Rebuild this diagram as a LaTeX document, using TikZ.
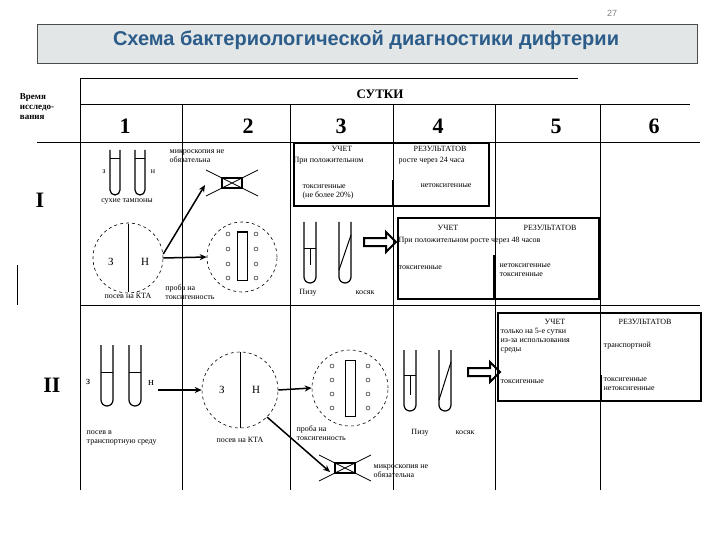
\documentclass[tikz,border=0pt]{standalone}
\usepackage{fontspec}
\setmainfont{Liberation Serif}
\newfontfamily\titlefont{Liberation Sans}
\usetikzlibrary{arrows.meta,shapes.arrows}
\definecolor{titleblue}{HTML}{2B5C8A}
\definecolor{bandgray}{HTML}{E2E6E6}
\tikzset{
  grid/.style={line width=0.8pt},
  txt/.style={font=\fontsize{8}{9}\selectfont, inner sep=0.5pt, align=left},
  big/.style={font=\bfseries\fontsize{22}{22}\selectfont, inner sep=0pt},
  resbox/.style={draw, line width=2pt},
  arr/.style={-{Stealth[length=7pt,width=6pt]}, line width=1.5pt},
  harrow/.style={single arrow, draw, line width=2pt, minimum height=32pt, minimum width=20pt, single arrow head extend=3pt, inner sep=1pt},
  dish/.style={circle, draw, dashed, line width=0.6pt, minimum size=70pt},
  testtube/.pic={\draw[line width=1.2pt] (-5,0) -- (-5,40) arc[start angle=180,end angle=0,radius=5] -- (5,0);},
  longtube/.pic={\draw[line width=1.2pt] (-6,0) -- (-6,55) arc[start angle=180,end angle=0,radius=6] -- (6,0);},
  scope/.pic={\draw[line width=2pt] (-10,-5) rectangle (10,5); \draw[line width=0.8pt] (-26,-13) -- (26,13) (-26,13) -- (26,-13);}
}
\begin{document}
\begin{tikzpicture}[x=1pt,y=-1pt]
\useasboundingbox (0,0) rectangle (720,540);
% title
\node (pg) at (612,13) {\titlefont\fontsize{9}{9}\selectfont\color{gray}27};
\draw[fill=bandgray, draw=black!70] (37,24) rectangle (697,63);
\node (title) at (366,40) {\titlefont\bfseries\fontsize{20}{20}\selectfont\color{titleblue}Схема бактериологической диагностики дифтерии};
% grid
\draw[grid] (80,78) -- (578,78);
\draw[grid] (80,78) -- (80,490);
\draw[grid] (80,104) -- (690,104);
\draw[grid] (37,142) -- (700,142);
\draw[grid] (80,305) -- (700,305);
\foreach \x in {182,290,393,495,600} \draw[grid] (\x,104) -- (\x,490);
\draw[grid] (17,265) -- (17,305);
% header
\node[txt, font=\bfseries\fontsize{9}{10}\selectfont] (vr) at (37,107) {Время\\исследо-\\вания};
\node[font=\bfseries\fontsize{13}{13}\selectfont] (sut) at (380,94) {СУТКИ};
\foreach \t/\x in {1/125,2/248,3/341,4/438,5/556,6/654} \node[big] (d\t) at (\x,126) {\t};
\node[big] (rI) at (40,200) {I};
\node[big] (rII) at (52,385) {II};
% row I
\pic at (115,150) {testtube}; \pic at (140,150) {testtube};
\draw (110,158) -- (120,158); \draw (135,158) -- (145,158);
\node[txt] (z1) at (104,172) {з}; \node[txt] (n1) at (153,172) {н};
\node[txt] (tamp) at (127,201) {сухие тампоны};
\node[dish] (c1) at (128,258) {};
\draw (128,224) -- (128,292);
\node[txt,font=\fontsize{11}{11}\selectfont] at (111,262) {З};
\node[txt,font=\fontsize{11}{11}\selectfont] at (145,262) {Н};
\node[txt] (kta1) at (128,296) {посев на КТА};
\node[txt] (mic1) at (197,156) {микроскопия не\\обязательна};
\pic at (232,183) {scope};
\coordinate (m1) at (205,185);
\draw[arr] (c1.east) ++(0,-4) -- (m1);
\node[dish] (c2) at (242,257) {};
\draw[arr] (c1.east) -- (c2.west);
\draw[line width=1pt] (237,232) rectangle (247,280);
\foreach \y in {234,249,264,278} {\draw (228,\y) circle (2); \draw (256,\y) circle (2);}
\node[txt] (pr1) at (190,292) {проба на\\токсигенность};
\node[resbox, minimum width=195pt, minimum height=63pt, anchor=north west] (b1) at (293,142) {};
\draw[line width=1.5pt] (393,180) -- (393,205);
\node[txt] at (342,149) {УЧЕТ}; \node[txt] at (440,149) {РЕЗУЛЬТАТОВ};
\node[txt,anchor=west] at (293,161) {При положительном};
\node[txt,anchor=west] at (398,161) {росте через 24 часа};
\node[txt] at (328,192) {токсигенные\\(не более 20\%)};
\node[txt] at (446,186) {нетоксигенные};
\pic at (310,222) {longtube}; \pic at (345,222) {longtube};
\draw (304,248) -- (316,248); \draw (310,248) -- (310,265);
\draw[line width=1pt] (339,270) -- (351,235);
\node[txt] at (308,293) {Пизу}; \node[txt] at (365,293) {косяк};
\node[harrow] (h1) at (378,242) {};
\node[resbox, minimum width=201pt, minimum height=81pt, anchor=north west] (b2) at (397,217) {};
\draw[line width=1.5pt] (494,255) -- (494,298);
\node[txt] at (448,228) {УЧЕТ}; \node[txt] at (550,228) {РЕЗУЛЬТАТОВ};
\node[txt,anchor=west] at (398,241) {При положительном росте через 48 часов};
\node[txt,anchor=west] at (398,268) {токсигенные};
\node[txt,anchor=north west] at (499,263) {нетоксигенные\\токсигенные};
% row II
\pic at (107,345) {longtube}; \pic at (135,345) {longtube};
\draw (101,372) -- (113,372); \draw (129,372) -- (141,372);
\node[txt,font=\fontsize{11}{11}\selectfont] at (88,382) {з};
\node[txt,font=\fontsize{11}{11}\selectfont] at (151,383) {н};
\coordinate (t2) at (158,390);
\node[dish, minimum size=76pt] (c3) at (240,390) {};
\draw (240,352) -- (240,428);
\node[txt,font=\fontsize{11}{11}\selectfont] at (222,390) {З};
\node[txt,font=\fontsize{11}{11}\selectfont] at (256,390) {Н};
\draw[arr] (t2) -- (c3.west);
\node[txt] at (240,440) {посев на КТА};
\node[txt,anchor=north west] at (86,430) {посев в\\транспортную среду};
\node[dish, minimum size=76pt] (c4) at (350,388) {};
\draw[arr] (c3.east) -- (c4.west);
\draw[line width=1pt] (345,360) rectangle (355,416);
\foreach \y in {366,380,394,408} {\draw (332,\y) circle (2); \draw (368,\y) circle (2);}
\node[txt,anchor=north west] at (296,425) {проба на\\токсигенность};
\coordinate (m2) at (330,472);
\draw[arr] (c3.south east) -- (m2);
\pic at (345,468) {scope};
\node[txt,anchor=west] at (373,471) {микроскопия не\\обязательна};
\pic at (410,350) {longtube}; \pic at (445,350) {longtube};
\draw (404,375) -- (416,375); \draw (410,375) -- (410,395);
\draw[line width=1pt] (439,400) -- (451,362);
\node[txt] at (420,433) {Пизу}; \node[txt] at (465,433) {косяк};
\node[harrow] (h2) at (482,372) {};
\node[resbox, minimum width=203pt, minimum height=88pt, anchor=north west] (b3) at (497,312) {};
\draw[line width=1.5pt] (601,375) -- (601,400);
\node[txt] at (555,322) {УЧЕТ}; \node[txt] at (645,322) {РЕЗУЛЬТАТОВ};
\node[txt,anchor=north west] at (500,328) {только на 5-е сутки\\из-за использования\\среды};
\node[txt,anchor=west] at (603,346) {транспортной};
\node[txt,anchor=west] at (500,382) {токсигенные};
\node[txt,anchor=north west] at (603,377) {токсигенные\\нетоксигенные};
\end{tikzpicture}
\end{document}
